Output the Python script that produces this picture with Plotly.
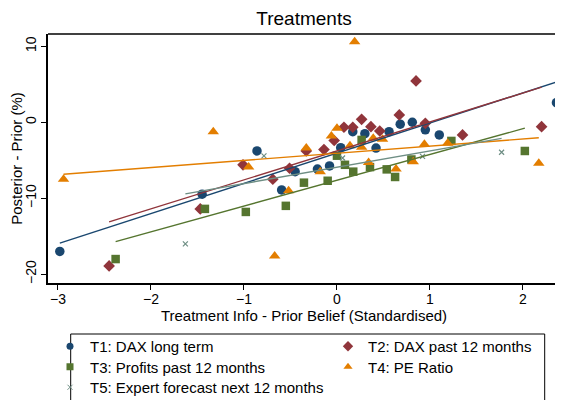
import plotly.graph_objects as go

# ---------------- data ----------------
t1_x = [-2.98, -1.45, -0.86, -0.595, -0.45, -0.21, -0.08, 0.04, 0.17, 0.30, 0.42, 0.56, 0.68, 0.81, 0.95, 1.10, 2.36]
t1_y = [-17.0, -9.47, -3.78, -8.9, -6.5, -6.15, -5.75, -3.34, -1.24, -1.5, -3.4, -1.24, -0.26, 0.0, -1.0, -1.67, 2.58]

t2_x = [-2.45, -1.47, -1.01, -0.69, -0.51, -0.33, -0.14, -0.03, 0.075, 0.17, 0.265, 0.365, 0.46, 0.67, 0.85, 0.95, 1.35, 2.20]
t2_y = [-18.9, -11.4, -5.6, -7.5, -6.05, -3.78, -3.6, -2.4, -0.66, -0.66, 0.39, -0.58, -1.15, 0.96, 5.43, -0.14, -1.67, -0.58]

t3_x = [-2.38, -1.42, -0.98, -0.55, -0.355, -0.10, 0.0, 0.086, 0.175, 0.265, 0.355, 0.535, 0.625, 0.80, 1.23, 2.02]
t3_y = [-18.0, -11.4, -11.8, -11.0, -7.95, -7.7, -4.4, -5.6, -6.5, -2.33, -5.9, -6.2, -7.2, -4.9, -2.46, -3.78]

t4_x = [-2.94, -1.33, -0.95, -0.67, -0.52, -0.33, -0.18, -0.06, 0.0, 0.14, 0.19, 0.265, 0.34, 0.39, 0.49, 0.635, 0.82, 0.94, 1.19, 2.17]
t4_y = [-7.5, -1.24, -5.9, -17.6, -9.0, -3.4, -6.5, -1.8, -0.8, -3.1, 10.6, -3.3, -5.3, -2.1, -2.24, -6.15, -5.2, -2.9, -2.76, -5.4]

t5_x = [-1.63, -0.785, 0.06, 0.92, 1.77]
t5_y = [-16.0, -4.43, -4.7, -4.5, -3.95]

# linear fit lines (intercept, slope) as drawn in the reference
fit_intercepts = [-4.07, -3.77, -7.63, -4.08, -5.92]
fit_slopes = [3.97, 3.81, 3.39, 0.94, 2.15]

series_names = [
    "T1: DAX long term",
    "T2: DAX past 12 months",
    "T3: Profits past 12 months",
    "T4: PE Ratio",
    "T5: Expert forecast next 12 months",
]
x_ticks = [-3, -2, -1, 0, 1, 2]
y_ticks = [-20, -10, 0, 10]

# ---------------- styling ----------------
colors = ["#1a476f", "#90353b", "#55752f", "#e37e00", "#6e8e84"]
symbols = ["circle", "diamond", "square", "triangle-up", "x-thin-open"]
sizes = [9.5, 9, 8.5, 10, 5]
legend_sizes = [7, 8, 7, 8, 5]
FONT = "Arial, Liberation Sans, sans-serif"

# the page body has an 8px margin: lay the figure out in screen pixels minus 8
OFF = 8
SCREEN_W, SCREEN_H = 563, 400
W, H = SCREEN_W - OFF, SCREEN_H - OFF
PLOT_L, PLOT_R, PLOT_T, PLOT_B = 48, 560, 34, 283  # screen pixels
ML, MT = PLOT_L - OFF, PLOT_T - OFF
MR, MB = W - (PLOT_R - OFF), H - (PLOT_B - OFF)
PW, PH = PLOT_R - PLOT_L, PLOT_B - PLOT_T


def px_x(p):  # screen px -> paper
    return (p - PLOT_L) / PW


def px_y(p):
    return (PLOT_B - p) / PH


# legend slot (left px, row-centre px) for each series, screen pixels
slot_left = [50, 328, 50, 328, 50]
slot_row = [346.5, 346.5, 367.0, 367.0, 387.5]

xs = [t1_x, t2_x, t3_x, t4_x, t5_x]
ys = [t1_y, t2_y, t3_y, t4_y, t5_y]

fig = go.Figure()

for i in range(5):
    mk = dict(color=colors[i], size=sizes[i], symbol=symbols[i])
    if i == 4:
        mk["line"] = dict(color=colors[i], width=1.2)
    fig.add_trace(go.Scatter(x=xs[i], y=ys[i], mode="markers", marker=mk,
                             showlegend=False, hoverinfo="skip"))

for i in range(5):
    x0, x1 = min(xs[i]), max(xs[i])
    fig.add_trace(go.Scatter(
        x=[x0, x1],
        y=[fit_intercepts[i] + fit_slopes[i] * x0, fit_intercepts[i] + fit_slopes[i] * x1],
        mode="lines", line=dict(color=colors[i], width=1.4),
        showlegend=False, hoverinfo="skip"))

legend_layouts = {}
for i in range(5):
    lid = "legend" if i == 0 else "legend%d" % (i + 1)
    mk = dict(color=colors[i], size=legend_sizes[i], symbol=symbols[i])
    if i == 4:
        mk["line"] = dict(color=colors[i], width=1)
    fig.add_trace(go.Scatter(x=[None], y=[None], mode="markers", marker=mk,
                             name=series_names[i], legend=lid, showlegend=True))
    legend_layouts[lid] = dict(
        x=px_x(slot_left[i]), y=px_y(slot_row[i]), xanchor="left", yanchor="middle",
        bgcolor="rgba(0,0,0,0)", borderwidth=0, itemwidth=30,
        font=dict(family=FONT, size=15, color="black"),
        itemclick=False, itemdoubleclick=False)

axis_common = dict(showgrid=False, zeroline=False, showline=True, linecolor="black",
                   linewidth=1.5, ticks="outside", ticklen=5, tickwidth=1.2, tickcolor="black",
                   automargin=False,
                   tickfont=dict(family=FONT, size=14, color="black"))

fig.update_layout(
    template="none",
    width=W, height=H,
    margin=dict(l=ML, r=MR, t=MT, b=MB, autoexpand=False),
    plot_bgcolor="white", paper_bgcolor="white",
    font=dict(family=FONT, color="black"),
    title=dict(text="Treatments", x=0.5, xref="paper", y=1 - (18 - OFF) / H, yref="container",
               xanchor="center", yanchor="middle", font=dict(family=FONT, size=19, color="black")),
    xaxis=dict(range=[-3.107, 2.398], tickvals=x_ticks, ticklabelstandoff=-3, **axis_common,
               title=dict(text="Treatment Info - Prior Belief (Standardised)",
                          font=dict(family=FONT, size=15, color="black"), standoff=0)),
    yaxis=dict(range=[-21.15, 11.61], tickvals=y_ticks, tickangle=-90, **axis_common,
               title=dict(text="Posterior - Prior (%)",
                          font=dict(family=FONT, size=15, color="black"), standoff=12)),
    shapes=[
        dict(type="line", xref="paper", yref="paper", x0=0, x1=1, y0=1, y1=1,
             line=dict(color="black", width=1.5)),
        dict(type="rect", xref="paper", yref="paper",
             x0=px_x(70.7), x1=px_x(544.7), y0=px_y(334), y1=px_y(430),
             line=dict(color="black", width=1)),
    ],
)
fig.update_layout(**legend_layouts)

fig.write_html("out.html")
